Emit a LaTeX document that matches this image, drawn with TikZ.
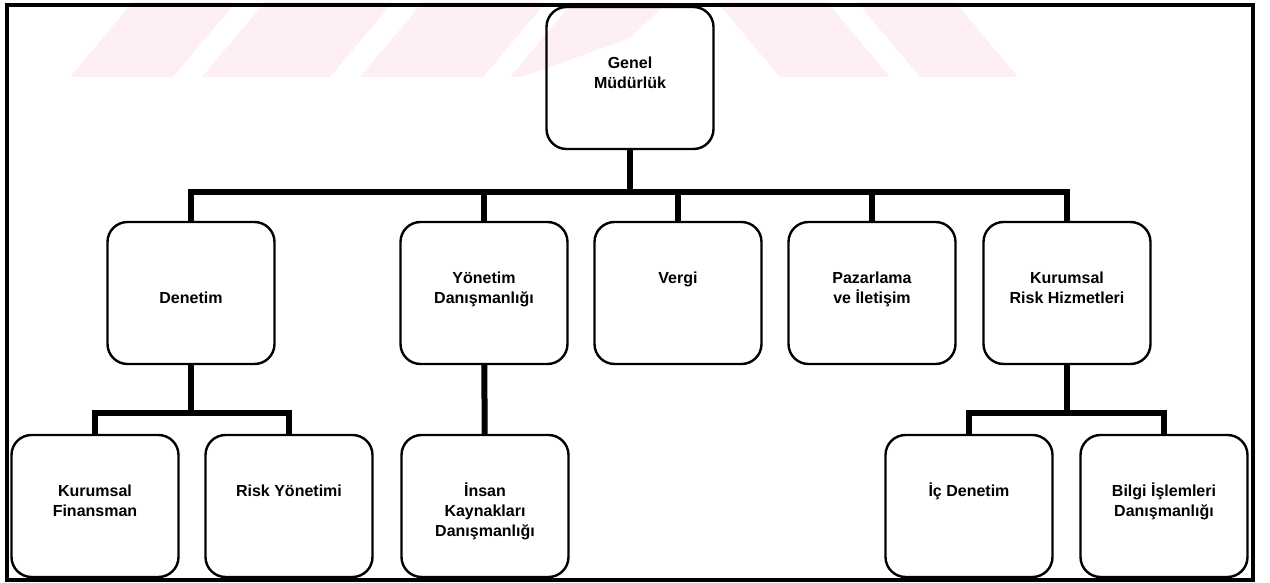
\documentclass[tikz,border=0pt]{standalone}
\usepackage{fontspec}
\setmainfont{Liberation Sans}
\usetikzlibrary{positioning}
\definecolor{wmark}{RGB}{254,239,242}
\tikzset{
  box/.style={draw, line width=1.2pt, rounded corners=10pt,
    minimum width=83.5pt, minimum height=71pt, inner sep=0pt},
  lbl/.style={font=\fontsize{8}{10}\selectfont\bfseries, align=center,
    inner sep=0pt, anchor=north},
  conn/.style={line width=3pt},
  frame/.style={line width=2.2pt},
}
\begin{document}
\begin{tikzpicture}[x=0.5pt,y=-0.5pt]
\useasboundingbox (0,0) rectangle (1270,583);

% watermark
\fill[wmark] (70,77) -- (173,77) -- (236,2) -- (133,2) -- cycle;
\fill[wmark] (202,77) -- (330,77) -- (393,2) -- (265,2) -- cycle;
\fill[wmark] (360,77) -- (483,77) -- (546,2) -- (423,2) -- cycle;
\fill[wmark] (510,77) -- (522,77) -- (630,38) -- (668,2) -- (573,2) -- cycle;
\fill[wmark] (717,2) -- (827,2) -- (890,77) -- (780,77) -- cycle;
\fill[wmark] (857,2) -- (955,2) -- (1018,77) -- (920,77) -- cycle;

\node[box] (gm) at (630,78) {};
\node[lbl, below=25.5pt of gm.north] (gml) {Genel\\Müdürlük};

\node[box] (den) at (191,293) {};
\node[box] (yon) at (484,293) {};
\node[box] (ver) at (678,293) {};
\node[box] (paz) at (872,293) {};
\node[box] (krh) at (1067,293) {};
\node[lbl, below=35.5pt of den.north] (denl) {Denetim};
\node[lbl, below=25.5pt of yon.north] (yonl) {Yönetim\\Danışmanlığı};
\node[lbl, below=25.5pt of ver.north] (verl) {Vergi};
\node[lbl, below=25.5pt of paz.north] (pazl) {Pazarlama\\ve İletişim};
\node[lbl, below=25.5pt of krh.north] (krhl) {Kurumsal\\Risk Hizmetleri};

\node[box] (kf) at (95,506) {};
\node[box] (ry) at (289,506) {};
\node[box] (ik) at (485,506) {};
\node[box] (ic) at (969,506) {};
\node[box] (bil) at (1164,506) {};
\node[lbl, below=25.5pt of kf.north] (kfl) {Kurumsal\\Finansman};
\node[lbl, below=25.5pt of ry.north] (ryl) {Risk Yönetimi};
\node[lbl, below=24.5pt of ik.north] (ikl) {İnsan\\Kaynakları\\Danışmanlığı};
\node[lbl, below=24.5pt of ic.north] (icl) {İç Denetim};
\node[lbl, below=24.5pt of bil.north] (bill) {Bilgi İşlemleri\\Danışmanlığı};

\coordinate (bus) at (630,192);
\coordinate (dbus) at (191,413);
\coordinate (kbus) at (1067,413);

\draw[conn] (gm) -- (bus);
\draw[conn] (den.north) |- (bus) -| (krh.north);
\foreach \n in {yon,ver,paz} {
  \draw[conn] (\n.north) -- (\n.north |- bus);
}
\draw[conn] (den) -- (dbus);
\draw[conn] (kf.north) |- (dbus) -| (ry.north);
\draw[conn] (yon) -- (ik);
\draw[conn] (krh) -- (kbus);
\draw[conn] (ic.north) |- (kbus) -| (bil.north);

\draw[frame] (7,5) rectangle (1253,580);
\end{tikzpicture}
\end{document}
